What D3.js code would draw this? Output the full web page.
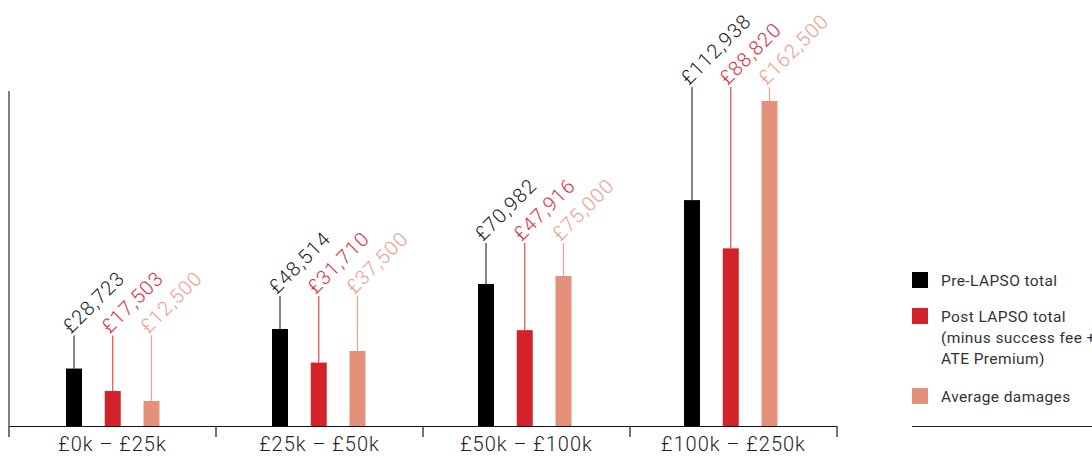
<!DOCTYPE html>
<html>
  <head>
    <meta charset="utf-8">
    <script type="text/javascript" src="https://cdn.jsdelivr.net/npm/d3@7"></script>
    <style>
      body { margin: 0; background: #fff; }
      text { font-family: Roboto, "Liberation Sans", sans-serif; }
    </style>
  </head>
  <body>
    <script type="text/javascript">
      WIDTH = 1092
      HEIGHT = 456
      BASE = 426
      TOP = 91

      // data
      var categories = ["£0k – £25k", "£25k – £50k", "£50k – £100k", "£100k – £250k"]
      var seriesNames = ["Pre-LAPSO total", "Post LAPSO total", "Average damages"]
      var preLapso = [28723, 48514, 70982, 112938]
      var postLapso = [17503, 31710, 47916, 88820]
      var avgDamages = [12500, 37500, 75000, 162500]

      var values = [preLapso, postLapso, avgDamages]
      var barColours = ["#000000", "#d2232a", "#e3917a"]
      var stemColours = ["#333333", "#dd4a50", "#eaa190"]
      var labelColours = ["#222222", "#d8303a", "#eba08c"]

      var svg = d3.select("body")
            .append("svg")
            .attr("width", WIDTH)
            .attr("height", HEIGHT);

      // scales: axis bands and (slightly narrower) bar bands
      var xscale = d3.scaleBand().domain(categories).range([9, 837]).padding(0)
      var barband = d3.scaleBand().domain(categories).range([10, 834]).padding(0)
      var inner = d3.scalePoint().domain(seriesNames).range([-39, 38.5])
      var yscale = d3.scaleLinear().domain([0, 167500]).range([BASE, TOP])
      var fmt = d3.format(",")
      var BARW = 16

      // left axis line
      svg.append("line")
        .attr("x1", 9).attr("x2", 9)
        .attr("y1", TOP).attr("y2", BASE)
        .attr("stroke", "#808080").attr("stroke-width", 2)

      // bottom axis
      svg.append("line")
        .attr("x1", 9).attr("x2", 837)
        .attr("y1", BASE + 0.5).attr("y2", BASE + 0.5)
        .attr("stroke", "#111").attr("stroke-width", 1.2)
      var bounds = categories.map(function(c) { return xscale(c) }).concat([xscale.range()[1]])
      svg.selectAll(".tick-b").data(bounds).enter().append("line")
        .attr("x1", function(d) { return d }).attr("x2", function(d) { return d })
        .attr("y1", BASE).attr("y2", BASE + 11)
        .attr("stroke", "#444").attr("stroke-width", 1.5)
      svg.selectAll(".cat").data(categories).enter().append("text")
        .attr("x", function(d) { return xscale(d) + xscale.bandwidth() / 2 })
        .attr("y", 451)
        .attr("text-anchor", "middle")
        .attr("font-size", 20)
        .attr("font-weight", 300)
        .attr("letter-spacing", 1)
        .attr("fill", "#222")
        .text(function(d) { return d })

      // groups of bars with stems and rotated labels
      categories.forEach(function(cat, ci) {
        var cx = barband(cat) + barband.bandwidth() / 2
        var groupMax = d3.max(values, function(s) { return s[ci] })
        var stemTop = Math.max(yscale(groupMax) - 33, 87)

        seriesNames.forEach(function(name, si) {
          var v = values[si][ci]
          var bx = cx + inner(name)

          svg.append("line")
            .attr("x1", bx).attr("x2", bx)
            .attr("y1", stemTop).attr("y2", yscale(v))
            .attr("stroke", stemColours[si]).attr("stroke-width", 1.2)

          svg.append("rect")
            .attr("x", bx - BARW / 2)
            .attr("y", yscale(v))
            .attr("width", BARW)
            .attr("height", BASE - yscale(v))
            .attr("fill", barColours[si])

          svg.append("text")
            .attr("transform", "translate(" + (bx - 3) + "," + (stemTop - 1) + ") rotate(-45)")
            .attr("font-size", 20)
            .attr("font-weight", 300)
            .attr("letter-spacing", 1)
            .attr("fill", labelColours[si])
            .text("£" + fmt(v))
        })
      })

      // legend
      var legendLines = [["Pre-LAPSO total"], ["Post LAPSO total", "(minus success fee +", "ATE Premium)"], ["Average damages"]]
      var legendTop = [272, 308, 388]
      legendLines.forEach(function(lines, i) {
        svg.append("rect")
          .attr("x", 912).attr("y", legendTop[i])
          .attr("width", 16).attr("height", 16)
          .attr("fill", barColours[i])
        lines.forEach(function(t, j) {
          svg.append("text")
            .attr("x", 941)
            .attr("y", legendTop[i] + 14 + j * 21)
            .attr("font-size", 15.5)
            .attr("letter-spacing", 0.4)
            .attr("fill", "#333")
            .text(t)
        })
      })
      svg.append("line")
        .attr("x1", 912).attr("x2", 1092)
        .attr("y1", 426.5).attr("y2", 426.5)
        .attr("stroke", "#222").attr("stroke-width", 1)
    </script>
  </body>
</html>
